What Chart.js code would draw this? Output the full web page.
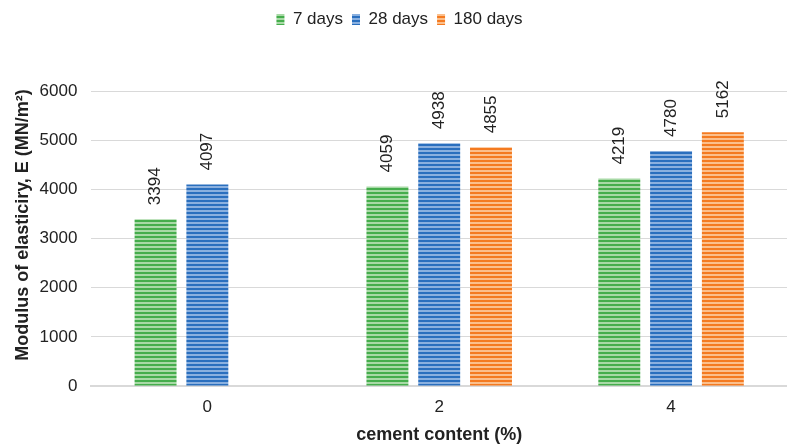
<!DOCTYPE html>
<html lang="en">
<head>
    <meta charset="UTF-8">
    <title>Modulus of elasticity vs cement content</title>
    <script src="https://cdn.jsdelivr.net/npm/chart.js"></script>
    <style>
        html, body { margin: 0; padding: 0; background: #fff; }
        #wrap { width: 787px; height: 446px; }
    </style>
</head>
<body>
    <div id="wrap"><canvas id="modulusChart"></canvas></div>

    <script>
        // Data
        const cementContent = ['0', '2', '4'];
        const days7 = [3394, 4059, 4219];
        const days28 = [4097, 4938, 4780];
        const days180 = [null, 4855, 5162];
        const yTicks = [0, 1000, 2000, 3000, 4000, 5000, 6000];

        const FONT = '"Liberation Sans", Arial, sans-serif';

        // Horizontal stripe fill like the original (dark line / light line)
        function stripes(dark, light) {
            const c = document.createElement('canvas');
            c.width = 4;
            c.height = 4;
            const g = c.getContext('2d');
            g.fillStyle = light;
            g.fillRect(0, 0, 4, 4);
            g.fillStyle = dark;
            g.fillRect(0, 0, 4, 2);
            return g.createPattern(c, 'repeat');
        }

        const greenFill = stripes('#45ad4c', '#a8d9a6');
        const blueFill = stripes('#2a6fbe', '#8ab0df');
        const orangeFill = stripes('#f47a20', '#fbbf8c');

        // Rotated value labels above each bar
        const valueLabels = {
            id: 'valueLabels',
            afterDatasetsDraw(chart) {
                const ctx = chart.ctx;
                ctx.save();
                ctx.font = '17px ' + FONT;
                ctx.fillStyle = '#222';
                ctx.textAlign = 'left';
                ctx.textBaseline = 'middle';
                chart.data.datasets.forEach((ds, i) => {
                    chart.getDatasetMeta(i).data.forEach((bar, j) => {
                        if (ds.data[j] == null) return;
                        ctx.save();
                        ctx.translate(bar.x, bar.y - 14);
                        ctx.rotate(-Math.PI / 2);
                        ctx.fillText(ds.data[j], 0, 0);
                        ctx.restore();
                    });
                });
                ctx.restore();
            }
        };

        // Extra room under the legend, as in the original
        const legendGap = {
            id: 'legendGap',
            beforeInit(chart) {
                const fit = chart.legend.fit;
                chart.legend.fit = function () {
                    fit.bind(chart.legend)();
                    this.height += 53;
                };
            }
        };

        const ctx = document.getElementById('modulusChart').getContext('2d');
        new Chart(ctx, {
            type: 'bar',
            data: {
                labels: cementContent,
                datasets: [
                    { label: '7 days', data: days7, backgroundColor: greenFill },
                    { label: '28 days', data: days28, backgroundColor: blueFill },
                    { label: '180 days', data: days180, backgroundColor: orangeFill }
                ]
            },
            options: {
                responsive: true,
                maintainAspectRatio: false,
                animation: false,
                categoryPercentage: 0.67,
                barPercentage: 0.81,
                layout: { padding: { top: 2, right: 0, left: 12, bottom: 0 } },
                plugins: {
                    legend: {
                        position: 'top',
                        labels: {
                            boxWidth: 8,
                            boxHeight: 11,
                            padding: 9,
                            color: '#222',
                            font: { size: 17, family: FONT }
                        }
                    },
                    tooltip: { enabled: false }
                },
                scales: {
                    x: {
                        grid: { display: false, drawTicks: false },
                        border: { color: '#d9d9d9', width: 2 },
                        ticks: {
                            color: '#222',
                            padding: 11,
                            font: { size: 17, family: FONT }
                        },
                        title: {
                            display: true,
                            text: 'cement content (%)',
                            color: '#222',
                            padding: { top: -4, bottom: 0 },
                            font: { size: 18, weight: 'bold', family: FONT }
                        }
                    },
                    y: {
                        min: 0,
                        max: 6000,
                        afterBuildTicks(axis) {
                            axis.ticks = yTicks.map(v => ({ value: v }));
                        },
                        grid: { color: '#d9d9d9', lineWidth: 1, drawTicks: false },
                        border: { display: false },
                        ticks: {
                            color: '#222',
                            padding: 14,
                            font: { size: 17, family: FONT },
                            callback: v => String(v)
                        },
                        title: {
                            display: true,
                            // leading spaces nudge the centred title upwards like the original
                            text: '\u2002\u2002\u2002Modulus of elasticiry, E (MN/m²)',
                            color: '#222',
                            padding: { top: 0, bottom: -8 },
                            font: { size: 18, weight: 'bold', family: FONT }
                        }
                    }
                }
            },
            plugins: [valueLabels, legendGap]
        });
    </script>
</body>
</html>
